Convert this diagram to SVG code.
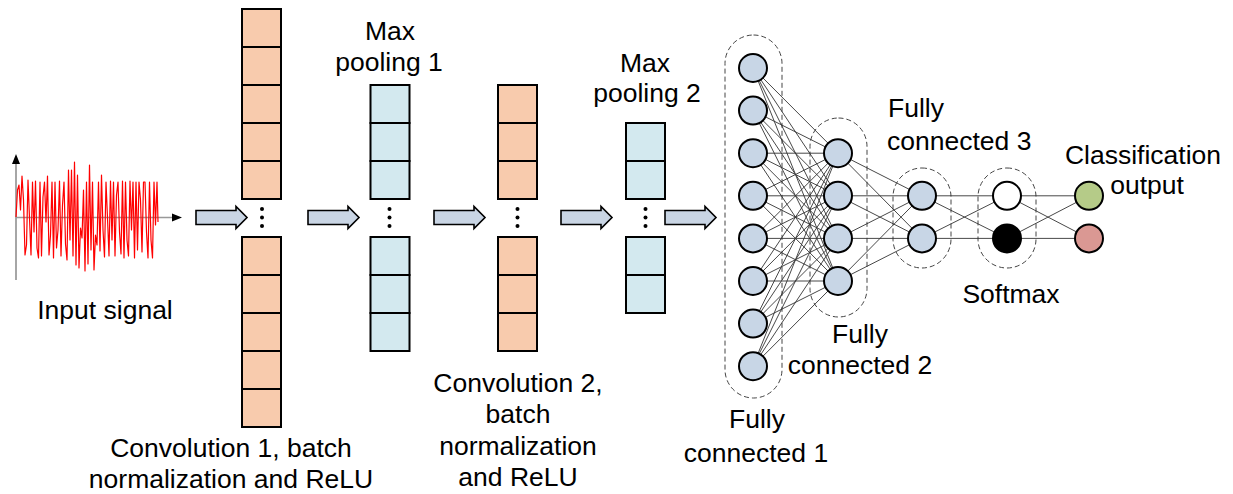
<svg xmlns="http://www.w3.org/2000/svg" width="1233" height="494" viewBox="0 0 1233 494">
  <style>
    text { font-family: "Liberation Sans", Arial, sans-serif; font-size: 26.5px; fill: #000; }
    .mid { text-anchor: middle; }
    .conv { fill: #f8cbad; stroke: #000; stroke-width: 2; }
    .pool { fill: #d3e9ef; stroke: #000; stroke-width: 2; }
    .flow { fill: #c9d5e4; stroke: #000; stroke-width: 1.6; stroke-linejoin: miter; }
    .dot { fill: #000; }
    .group { fill: none; stroke: #444; stroke-width: 1; stroke-dasharray: 5 3; }
    .node { stroke: #000; stroke-width: 2; }
    .hid { fill: #c8d6e6; }
    .edge { stroke: #333; stroke-width: 0.9; fill: none; }
  </style>
  <defs>
    <path id="flow-arrow" d="M0,-7 H40 V-11 L51,0 L40,11 V7 H0 Z"/>
    <g id="vdots">
      <circle cx="0" cy="-8.5" r="2" class="dot"/>
      <circle cx="0" cy="0" r="2" class="dot"/>
      <circle cx="0" cy="8.5" r="2" class="dot"/>
    </g>
  </defs>

  <!-- input signal plot -->
  <g id="input-signal">
    <line x1="16" y1="280" x2="16" y2="162" stroke="#888" stroke-width="1.5"/>
    <polygon points="16,154 12,164 20,164" fill="#000"/>
    <line x1="16" y1="217.5" x2="174" y2="217.5" stroke="#999" stroke-width="1.5"/>
    <polygon points="182,217.5 172,213.5 172,221.5" fill="#000"/>
    <polyline fill="none" stroke="#f00" stroke-width="1.2" stroke-linejoin="round" points="16,217 17.5,190 19,185 20.5,210 22,176 23.5,200 25,255 26.5,245 28,180 29.5,218 31,255 32.5,182 34,232 35.5,181 37,248 38.5,258 40,182 41.5,256 43,197 44.5,182 46,222 47.5,176 49,255 50.5,235 52,182 53.5,258 55,182 56.5,248 58,230 59.5,181 61,256 62.5,205 64,182 65.5,244 67,260 68.5,170 70,240 71.5,170 73,256 74.5,162 76,265 77.5,175 79,268 80.5,228 82,238 83.5,190 85,271 86.5,182 88,264 89.5,165 91,250 92.5,182 94,270 95.5,235 97,245 98.5,182 100,251 101.5,175 103,230 104.5,257 106,182 107.5,218 109,256 110.5,181 112,240 113.5,182 115,256 116.5,195 118,182 119.5,232 121,254 122.5,181 124,258 125.5,182 127,240 128.5,256 130,181 131.5,230 133,182 134.5,258 136,182 137.5,250 139,182 140.5,200 142,252 143.5,182 145,182 146.5,232 148,258 149.5,182 151,240 152.5,258 154,182 155.5,225 157,182 158,222"/>
    <text x="105" y="319" class="mid">Input signal</text>
  </g>

  <!-- convolution 1 -->
  <g id="conv1">
    <rect x="242" y="9" width="39" height="38" class="conv"/>
    <rect x="242" y="47" width="39" height="38" class="conv"/>
    <rect x="242" y="85" width="39" height="38" class="conv"/>
    <rect x="242" y="123" width="39" height="38" class="conv"/>
    <rect x="242" y="161" width="39" height="38" class="conv"/>
    <use href="#vdots" x="262" y="217.5"/>
    <rect x="242" y="237" width="39" height="38" class="conv"/>
    <rect x="242" y="275" width="39" height="38" class="conv"/>
    <rect x="242" y="313" width="39" height="38" class="conv"/>
    <rect x="242" y="351" width="39" height="38" class="conv"/>
    <rect x="242" y="389" width="39" height="38" class="conv"/>
    <text x="231" y="457" class="mid">Convolution 1, batch</text>
    <text x="231" y="488" class="mid">normalization and ReLU</text>
  </g>

  <!-- max pooling 1 -->
  <g id="pool1">
    <text x="390" y="40" class="mid">Max</text>
    <text x="389" y="71" class="mid">pooling 1</text>
    <rect x="370.5" y="85" width="39" height="38" class="pool"/>
    <rect x="370.5" y="123" width="39" height="38" class="pool"/>
    <rect x="370.5" y="161" width="39" height="38" class="pool"/>
    <use href="#vdots" x="389.5" y="217.5"/>
    <rect x="370.5" y="237" width="39" height="38" class="pool"/>
    <rect x="370.5" y="275" width="39" height="38" class="pool"/>
    <rect x="370.5" y="313" width="39" height="38" class="pool"/>
  </g>

  <!-- convolution 2 -->
  <g id="conv2">
    <rect x="498" y="85" width="39" height="38" class="conv"/>
    <rect x="498" y="123" width="39" height="38" class="conv"/>
    <rect x="498" y="161" width="39" height="38" class="conv"/>
    <use href="#vdots" x="517.5" y="217.5"/>
    <rect x="498" y="237" width="39" height="38" class="conv"/>
    <rect x="498" y="275" width="39" height="38" class="conv"/>
    <rect x="498" y="313" width="39" height="38" class="conv"/>
    <text x="518" y="392" class="mid">Convolution 2,</text>
    <text x="518" y="423" class="mid">batch</text>
    <text x="518" y="455" class="mid">normalization</text>
    <text x="518" y="486" class="mid">and ReLU</text>
  </g>

  <!-- max pooling 2 -->
  <g id="pool2">
    <text x="645" y="72" class="mid">Max</text>
    <text x="647" y="102" class="mid">pooling 2</text>
    <rect x="626" y="123" width="39" height="38" class="pool"/>
    <rect x="626" y="161" width="39" height="38" class="pool"/>
    <use href="#vdots" x="645.5" y="217.5"/>
    <rect x="626" y="237" width="39" height="38" class="pool"/>
    <rect x="626" y="275" width="39" height="38" class="pool"/>
  </g>

  <!-- data-flow arrows between stages -->
  <g id="flow-arrows">
    <use href="#flow-arrow" class="flow" x="196" y="217.5"/>
    <use href="#flow-arrow" class="flow" x="308" y="217.5"/>
    <use href="#flow-arrow" class="flow" x="434" y="217.5"/>
    <use href="#flow-arrow" class="flow" x="561" y="217.5"/>
    <use href="#flow-arrow" class="flow" x="665" y="217.5"/>
  </g>

  <!-- layer outlines -->
  <g id="layer-outlines">
    <rect x="725" y="35" width="57" height="363" rx="28.5" class="group"/>
    <rect x="810" y="118" width="57" height="199" rx="28.5" class="group"/>
    <rect x="893" y="168" width="58" height="100" rx="29" class="group"/>
    <rect x="978" y="168" width="58" height="100" rx="29" class="group"/>
  </g>

  <!-- dense connections -->
  <g id="connectors" class="edge">
    <!-- FC1 -> FC2 -->
    <path d="M753,68 L838,153.2 M753,68 L838,195.8 M753,68 L838,238.4 M753,68 L838,281
             M753,110.6 L838,153.2 M753,110.6 L838,195.8 M753,110.6 L838,238.4 M753,110.6 L838,281
             M753,153.2 L838,153.2 M753,153.2 L838,195.8 M753,153.2 L838,238.4 M753,153.2 L838,281
             M753,195.8 L838,153.2 M753,195.8 L838,195.8 M753,195.8 L838,238.4 M753,195.8 L838,281
             M753,238.4 L838,153.2 M753,238.4 L838,195.8 M753,238.4 L838,238.4 M753,238.4 L838,281
             M753,281 L838,153.2 M753,281 L838,195.8 M753,281 L838,238.4 M753,281 L838,281
             M753,323.6 L838,153.2 M753,323.6 L838,195.8 M753,323.6 L838,238.4 M753,323.6 L838,281
             M753,366.2 L838,153.2 M753,366.2 L838,195.8 M753,366.2 L838,238.4 M753,366.2 L838,281"/>
    <!-- FC2 -> FC3 -->
    <path d="M838,153.2 L922,195.8 M838,153.2 L922,238.4
             M838,195.8 L922,195.8 M838,195.8 L922,238.4
             M838,238.4 L922,195.8 M838,238.4 L922,238.4
             M838,281 L922,195.8 M838,281 L922,238.4"/>
    <!-- FC3 -> softmax -->
    <path d="M922,195.8 L1007,195.8 M922,195.8 L1007,238.4 M922,238.4 L1007,195.8 M922,238.4 L1007,238.4"/>
    <!-- softmax -> output -->
    <path d="M1007,195.8 L1089,195.8 M1007,195.8 L1089,238.4 M1007,238.4 L1089,195.8 M1007,238.4 L1089,238.4"/>
  </g>

  <!-- fully connected 1 -->
  <g id="fc1">
    <circle cx="753" cy="68" r="14" class="node hid"/>
    <circle cx="753" cy="110.6" r="14" class="node hid"/>
    <circle cx="753" cy="153.2" r="14" class="node hid"/>
    <circle cx="753" cy="195.8" r="14" class="node hid"/>
    <circle cx="753" cy="238.4" r="14" class="node hid"/>
    <circle cx="753" cy="281" r="14" class="node hid"/>
    <circle cx="753" cy="323.6" r="14" class="node hid"/>
    <circle cx="753" cy="366.2" r="14" class="node hid"/>
    <text x="757" y="428" class="mid">Fully</text>
    <text x="756" y="462" class="mid">connected 1</text>
  </g>

  <!-- fully connected 2 -->
  <g id="fc2">
    <circle cx="838" cy="153.2" r="14" class="node hid"/>
    <circle cx="838" cy="195.8" r="14" class="node hid"/>
    <circle cx="838" cy="238.4" r="14" class="node hid"/>
    <circle cx="838" cy="281" r="14" class="node hid"/>
    <text x="860" y="343" class="mid">Fully</text>
    <text x="860" y="374" class="mid">connected 2</text>
  </g>

  <!-- fully connected 3 -->
  <g id="fc3">
    <circle cx="922" cy="195.8" r="14" class="node hid"/>
    <circle cx="922" cy="238.4" r="14" class="node hid"/>
    <text x="888" y="117">Fully</text>
    <text x="887" y="150">connected 3</text>
  </g>

  <!-- softmax -->
  <g id="softmax">
    <circle cx="1007" cy="195.8" r="14" class="node" fill="#fff"/>
    <circle cx="1007" cy="238.4" r="14" class="node" fill="#000"/>
    <text x="1011" y="303" class="mid">Softmax</text>
  </g>

  <!-- classification output -->
  <g id="output">
    <circle cx="1089" cy="195.8" r="14" class="node" fill="#b5cb88"/>
    <circle cx="1089" cy="238.4" r="14" class="node" fill="#da9893"/>
    <text x="1143" y="164" class="mid">Classification</text>
    <text x="1147" y="194" class="mid">output</text>
  </g>
</svg>
